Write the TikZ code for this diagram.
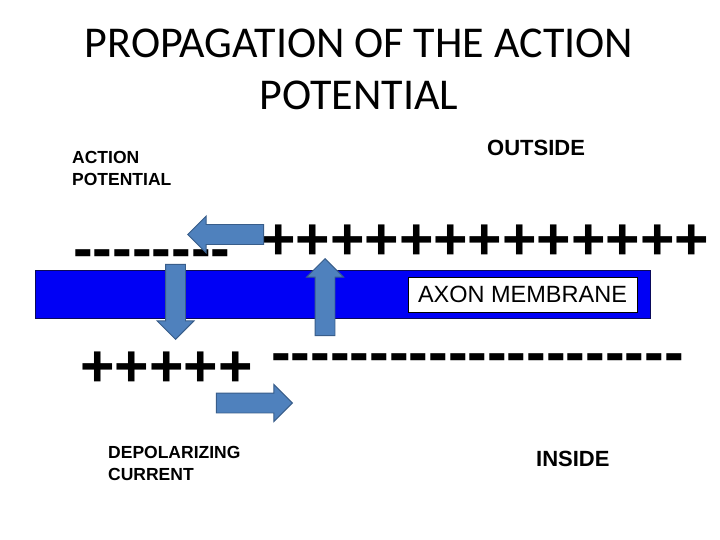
\documentclass[tikz,border=0pt]{standalone}
\usepackage{fontspec}
\setmainfont{Liberation Sans}
\newfontfamily\titlefont{Carlito}
\usetikzlibrary{shapes.arrows}

\definecolor{arrowfill}{RGB}{79,129,189}
\definecolor{arrowline}{RGB}{56,93,138}
\definecolor{membraneblue}{RGB}{0,0,245}
\definecolor{membraneline}{RGB}{10,10,90}

% a row of minus signs, kept apart so they stay hyphens
\newcommand\minusrow[1]{\foreach \k in {1,...,#1}{-\kern0pt}}

\begin{document}
\begin{tikzpicture}[x=1pt, y=-1pt,
    blockarrow/.style={single arrow, draw=arrowline, fill=arrowfill,
      line width=0.9pt, inner xsep=0pt, inner ysep=9.5pt,
      minimum width=36pt, single arrow head extend=8.5pt, anchor=tip},
    chargerow/.style={font=\bfseries\fontsize{59}{59}\selectfont,
      inner sep=0pt, anchor=base west},
    sidetext/.style={font=\bfseries\fontsize{17.5}{22}\selectfont,
      align=left, inner sep=0pt, anchor=base west}
  ]
  \useasboundingbox[fill=white] (0,0) rectangle (720,540);

  \node[font=\titlefont\fontsize{44}{52}\selectfont, align=center,
        anchor=base, inner sep=0pt] (title) at (359,110)
    {PROPAGATION OF THE ACTION\\POTENTIAL};

  \node[draw=membraneline, fill=membraneblue, line width=0.8pt,
        minimum width=615pt, minimum height=48pt, inner sep=0pt]
    (membrane) at (342.5,294) {};
  \node[draw=black, fill=white, line width=0.6pt, minimum width=229pt,
        minimum height=35pt, inner sep=0pt,
        font=\fontsize{23.5}{28}\selectfont] (axon) at (522.5,294.5)
    {AXON MEMBRANE};

  \node[chargerow] (outminus) at (73,268) {\minusrow{8}};
  \node[chargerow] (outplus) at (261,259) {+++++++++++++};
  \node[chargerow] (inplus) at (80,386) {+++++};
  \node[chargerow] (inminus) at (271,372) {\minusrow{21}};

  \node[blockarrow, minimum height=76pt, rotate=180] (spread) at (187,234.5) {};
  \node[blockarrow, minimum height=75pt, rotate=-90] (inflow) at (175.5,340) {};
  \node[blockarrow, minimum height=77pt, rotate=90] (outflow) at (325,258) {};
  \node[blockarrow, minimum height=76pt] (current) at (293,403) {};

  \node[sidetext] (aplabel) at (72,186) {ACTION\\POTENTIAL};
  \node[sidetext, font=\bfseries\fontsize{22}{26}\selectfont] (outside)
    at (487,156) {OUTSIDE};
  \node[sidetext] (deplabel) at (108,480) {DEPOLARIZING\\CURRENT};
  \node[sidetext, font=\bfseries\fontsize{22}{26}\selectfont] (inside)
    at (536,466) {INSIDE};
\end{tikzpicture}
\end{document}
